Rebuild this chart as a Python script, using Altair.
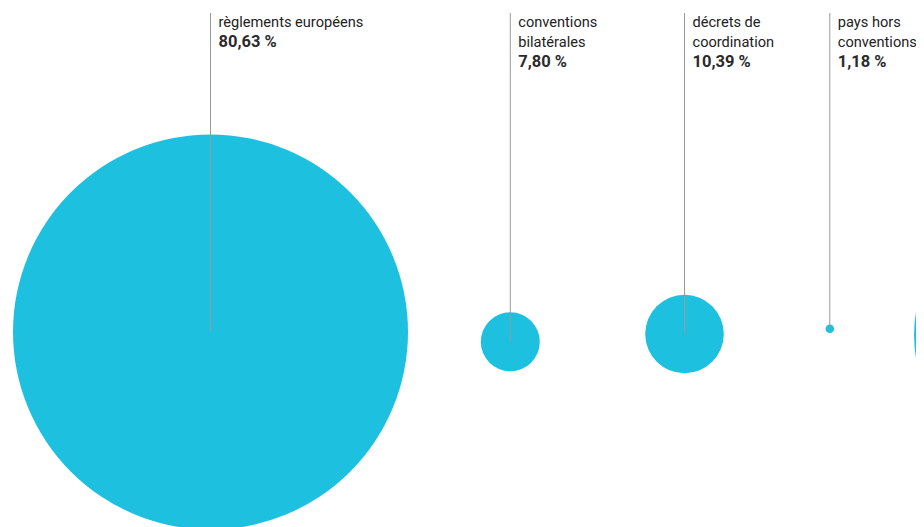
import altair as alt
import pandas as pd

# Data
names = ["règlements européens", "conventions bilatérales", "décrets de coordination",
         "pays hors conventions", "(hors cadre)"]
label_lines = [["règlements européens"], ["conventions", "bilatérales"],
               ["décrets de", "coordination"], ["pays hors", "conventions"], []]
percent_labels = ["80,63 %", "7,80 %", "10,39 %", "1,18 %", ""]
weights = [1000, 22.3, 39.6, 0.47, 502]          # relative bubble areas
layout_x = [210.5, 510.3, 684.5, 829.8, 1054]     # bubble layout (page units)
layout_y = [332, 341.8, 334, 328.7, 335]
label_top = 13
line_step = 20
first_baseline = 27

bubbles = pd.DataFrame({"name": names, "weight": weights, "x": layout_x, "y": layout_y})
rules = bubbles[bubbles["name"] != "(hors cadre)"].copy()
rules["top"] = label_top

text_rows, pct_rows = [], []
for n, lines, pct, x in zip(names, label_lines, percent_labels, layout_x):
    if not lines:
        continue
    for i, t in enumerate(lines):
        text_rows.append({"name": n, "text": t, "x": x, "y": first_baseline + line_step * i})
    pct_rows.append({"name": n, "text": pct, "x": x, "y": first_baseline + line_step * len(lines)})
texts = pd.DataFrame(text_rows)
pcts = pd.DataFrame(pct_rows)

W, H = 908, 519
xs = alt.Scale(domain=[8, 916], nice=False, zero=False)
ys = alt.Scale(domain=[8, 527], nice=False, zero=False, reverse=True)

circles = alt.Chart(bubbles).mark_circle(color="#1EC0E0", opacity=1).encode(
    x=alt.X("x:Q", scale=xs, axis=None),
    y=alt.Y("y:Q", scale=ys, axis=None),
    size=alt.Size("weight:Q", scale=alt.Scale(domain=[0, 1000], range=[0, 156025]), legend=None),
)

lines = alt.Chart(rules).mark_rule(color="#999999", strokeWidth=1).encode(
    x=alt.X("x:Q", scale=xs, axis=None),
    y=alt.Y("top:Q", scale=ys, axis=None),
    y2="y:Q",
)

label_text = alt.Chart(texts).mark_text(
    align="left", baseline="alphabetic", dx=8, font="Roboto", fontSize=14.6,
    color="#222222"
).encode(
    x=alt.X("x:Q", scale=xs, axis=None),
    y=alt.Y("y:Q", scale=ys, axis=None),
    text="text:N",
)

pct_text = alt.Chart(pcts).mark_text(
    align="left", baseline="alphabetic", dx=8, font="Roboto", fontSize=16.5,
    fontWeight="bold", color="#2b2b2b"
).encode(
    x=alt.X("x:Q", scale=xs, axis=None),
    y=alt.Y("y:Q", scale=ys, axis=None),
    text="text:N",
)

chart = alt.layer(circles, lines, label_text, pct_text).properties(
    width=W, height=H, padding=0, autosize=alt.AutoSizeParams(type="none")
).configure_view(stroke=None)

chart.save("out.html", embed_options={"renderer": "svg", "actions": False})
